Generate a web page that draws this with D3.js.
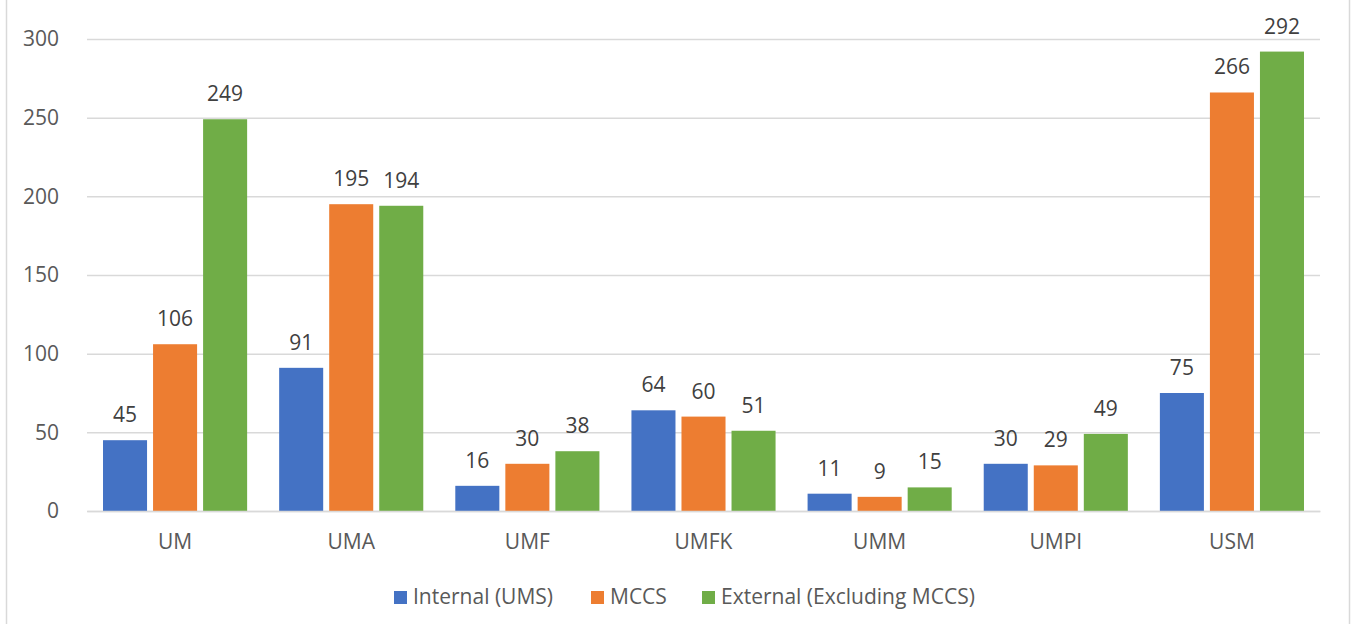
<!DOCTYPE html>
<html>
<head>
<meta charset="utf-8">
<script src="https://cdn.jsdelivr.net/npm/d3@7"></script>
<style>
    body { margin: 0; background: #fff; }
    svg { display: block; font-family: "Open Sans", sans-serif; }
</style>
</head>
<body>
<div id="chart"></div>
<script>
var campuses = ["UM", "UMA", "UMF", "UMFK", "UMM", "UMPI", "USM"];
var seriesNames = ["Internal (UMS)", "MCCS", "External (Excluding MCCS)"];
var internalUMS = [45, 91, 16, 64, 11, 30, 75];
var mccs = [106, 195, 30, 60, 9, 29, 266];
var external = [249, 194, 38, 51, 15, 49, 292];
var yTicks = [0, 50, 100, 150, 200, 250, 300];
var colors = ["#4472c4", "#ed7d31", "#70ad47"];

var width = 1351, height = 624;
var plotLeft = 87, plotRight = 1320, plotTop = 39, plotBottom = 511;
var fontSize = "21px";

var svg = d3.select("#chart").append("svg")
    .attr("width", width)
    .attr("height", height);

// outer chart border
svg.append("rect")
    .attr("x", 6.5).attr("y", -2)
    .attr("width", 1343).attr("height", height + 4)
    .attr("fill", "none")
    .attr("stroke", "#d9d9d9")
    .attr("stroke-width", 1.5);

var x = d3.scaleBand()
    .domain(campuses)
    .range([plotLeft, plotRight]);

var series = d3.scaleBand()
    .domain(seriesNames)
    .range([0, x.bandwidth()])
    .paddingInner(0.12)
    .paddingOuter(0.32);

var y = d3.scaleLinear()
    .domain([0, 300])
    .range([plotBottom, plotTop]);

// gridlines
var yAxis = d3.axisLeft(y)
    .tickValues(yTicks)
    .tickSize(-(plotRight - plotLeft))
    .tickPadding(28);

var gy = svg.append("g")
    .attr("transform", "translate(" + plotLeft + ",0)")
    .call(yAxis);
gy.select(".domain").remove();
gy.selectAll(".tick line")
    .attr("stroke", "#d9d9d9")
    .attr("stroke-width", 1.5);
gy.selectAll(".tick text")
    .attr("fill", "#595959")
    .style("font-size", fontSize)
    .style("font-family", "Open Sans, sans-serif");

var data = campuses.map(function (c, i) {
    return [
        {campus: c, name: seriesNames[0], value: internalUMS[i]},
        {campus: c, name: seriesNames[1], value: mccs[i]},
        {campus: c, name: seriesNames[2], value: external[i]}
    ];
});

var groups = svg.append("g").selectAll("g")
    .data(data)
    .enter().append("g")
    .attr("transform", function (d) { return "translate(" + x(d[0].campus) + ",0)"; });

groups.selectAll("rect")
    .data(function (d) { return d; })
    .enter().append("rect")
    .attr("x", function (d) { return series(d.name); })
    .attr("y", function (d) { return y(d.value); })
    .attr("width", series.bandwidth())
    .attr("height", function (d) { return y(0) - y(d.value); })
    .attr("fill", function (d, i) { return colors[i]; });

groups.selectAll("text")
    .data(function (d) { return d; })
    .enter().append("text")
    .attr("x", function (d) { return series(d.name) + series.bandwidth() / 2; })
    .attr("y", function (d) { return y(d.value) - 18; })
    .attr("text-anchor", "middle")
    .attr("fill", "#404040")
    .style("font-size", fontSize)
    .text(function (d) { return d.value; });

// x axis baseline
var xAxis = d3.axisBottom(x).tickSize(0).tickPadding(23);
var gx = svg.append("g")
    .attr("transform", "translate(0," + plotBottom + ")")
    .call(xAxis);
gx.select(".domain")
    .attr("stroke", "#d9d9d9")
    .attr("stroke-width", 1.5);
gx.selectAll(".tick text")
    .attr("fill", "#595959")
    .style("font-size", fontSize)
    .style("font-family", "Open Sans, sans-serif");

// legend
var legendX = [394, 591, 702];
var legend = svg.append("g").selectAll("g")
    .data(seriesNames)
    .enter().append("g")
    .attr("transform", function (d, i) { return "translate(" + legendX[i] + ",591)"; });
legend.append("rect")
    .attr("width", 13).attr("height", 13)
    .attr("fill", function (d, i) { return colors[i]; });
legend.append("text")
    .attr("x", 19).attr("y", 13)
    .attr("fill", "#595959")
    .style("font-size", fontSize)
    .text(function (d) { return d; });
</script>
</body>
</html>
